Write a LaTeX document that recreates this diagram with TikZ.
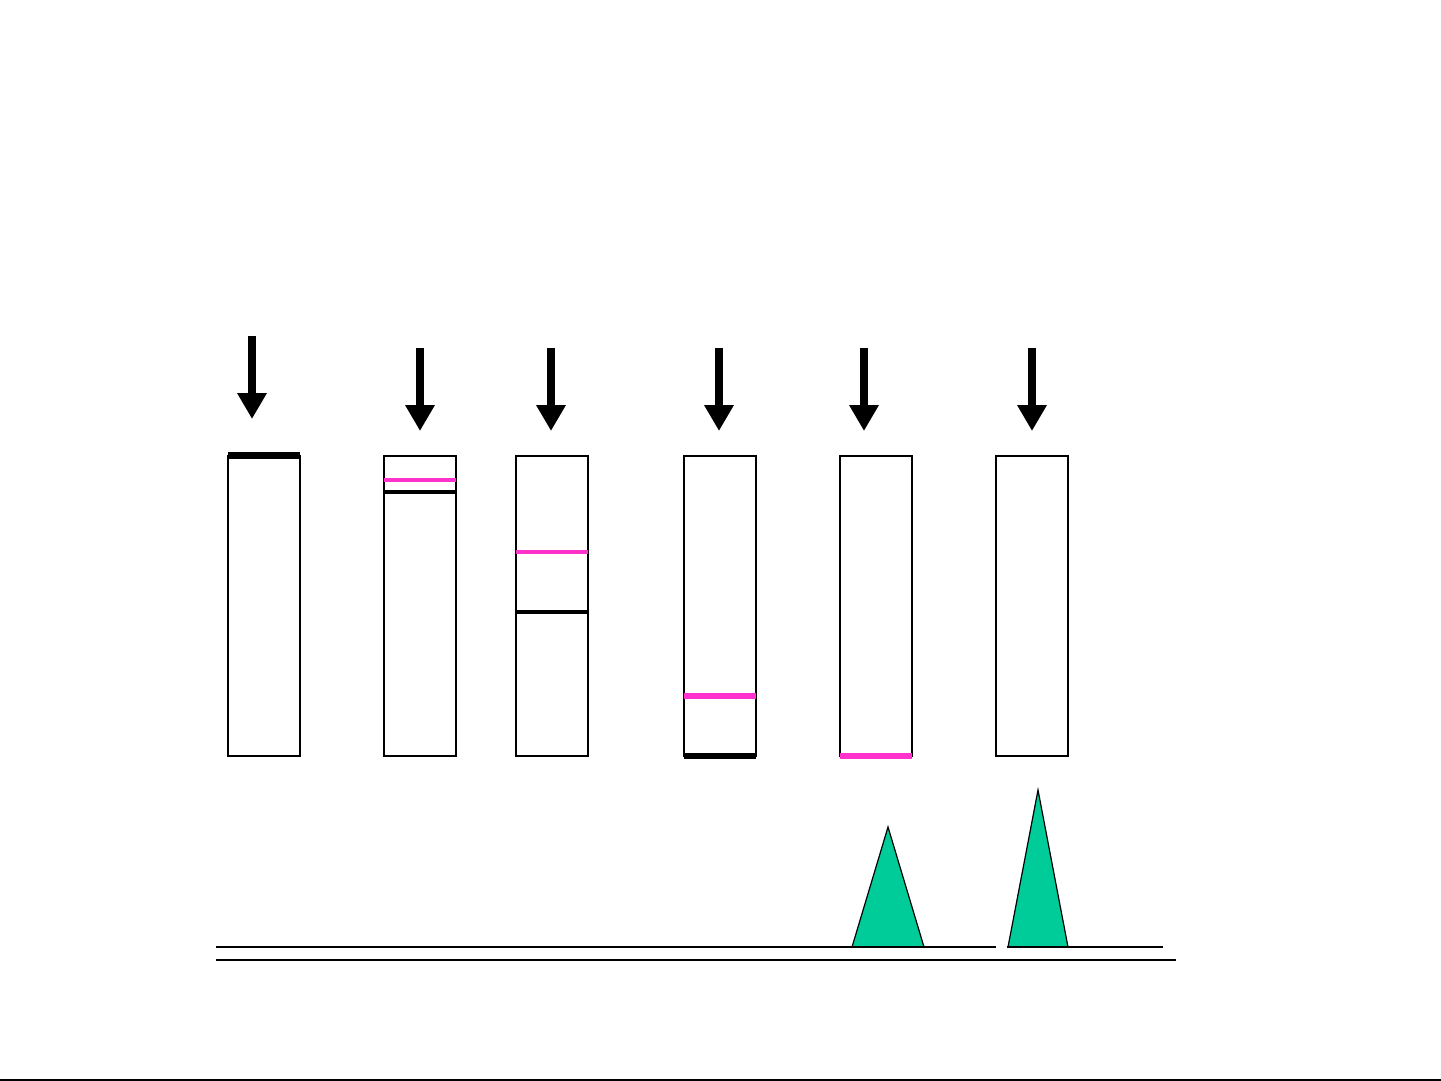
\documentclass[tikz,border=0pt]{standalone}
\usepackage{xcolor}
\usepackage{tikz}
\usetikzlibrary{arrows.meta,positioning,calc}

\definecolor{bandpink}{HTML}{FF33CC}
\definecolor{peakgreen}{HTML}{00CC99}

\begin{document}
\begin{tikzpicture}[
		x=0.5pt, y=-0.5pt,
		tube/.style={draw, line width=1.2pt, inner sep=0pt, outer sep=0pt, minimum width=36pt, minimum height=150pt},
		load/.style={line width=4.3pt, -{Triangle[width=14pt, length=13pt]}},
		pinkband/.style={draw=bandpink, line width=2pt},
		blackband/.style={draw=black, line width=1.6pt},
		peak/.style={draw, line width=0.6pt, fill=peakgreen},
		axis/.style={draw, line width=1pt}
		]
		\useasboundingbox (0,0) rectangle (1441,1081);
		
		% Row of tubes
		\node[tube] (t1) at (264,606) {};
		\node[tube, right=42pt of t1] (t2) {};
		\node[tube, right=30pt of t2] (t3) {};
		\node[tube, right=48pt of t3] (t4) {};
		\node[tube, right=42pt of t4] (t5) {};
		\node[tube, right=42pt of t5] (t6) {};
		
		% Loading arrows above the tubes
		\coordinate (a1s) at (252,336);  \coordinate (a1e) at (252,419);
		\coordinate (a2s) at (420,348);  \coordinate (a2e) at (420,431);
		\coordinate (a3s) at (551,348);  \coordinate (a3e) at (551,431);
		\coordinate (a4s) at (719,348);  \coordinate (a4e) at (719,431);
		\coordinate (a5s) at (864,348);  \coordinate (a5e) at (864,431);
		\coordinate (a6s) at (1032,348); \coordinate (a6e) at (1032,431);
		\draw[load] (a1s) -- (a1e);
		\draw[load] (a2s) -- (a2e);
		\draw[load] (a3s) -- (a3e);
		\draw[load] (a4s) -- (a4e);
		\draw[load] (a5s) -- (a5e);
		\draw[load] (a6s) -- (a6e);
		
		% Bands inside the tubes
		\draw[line width=3.5pt] ($(t1.north west)+(0,-1)$) -- ($(t1.north east)+(0,-1)$);
		\draw[pinkband] ($(t2.north west)+(0,24)$) -- ($(t2.north east)+(0,24)$);
		\draw[blackband] ($(t2.north west)+(0,36)$) -- ($(t2.north east)+(0,36)$);
		\draw[pinkband] ($(t3.north west)+(0,96)$) -- ($(t3.north east)+(0,96)$);
		\draw[blackband] ($(t3.north west)+(0,156)$) -- ($(t3.north east)+(0,156)$);
		\draw[pinkband, line width=2.6pt] ($(t4.north west)+(0,240)$) -- ($(t4.north east)+(0,240)$);
		\draw[line width=2.6pt] (t4.south west) -- (t4.south east);
		\draw[pinkband, line width=2.6pt] (t5.south west) -- (t5.south east);
		
		% Peaks on the base lines
		\draw[peak] (852,947) -- (888,827) -- (924,947) -- cycle;
		\draw[peak] (1008,947) -- (1038,790) -- (1068,947) -- cycle;
		\draw[axis] (216,947) -- (996,947);
		\draw[axis] (1007,947) -- (1163,947);
		\draw[axis] (216,960) -- (1176,960);
		
		% Bottom edge
		\draw[line width=1pt] (0,1079.5) -- (1441,1079.5);
	\end{tikzpicture}
\end{document}
